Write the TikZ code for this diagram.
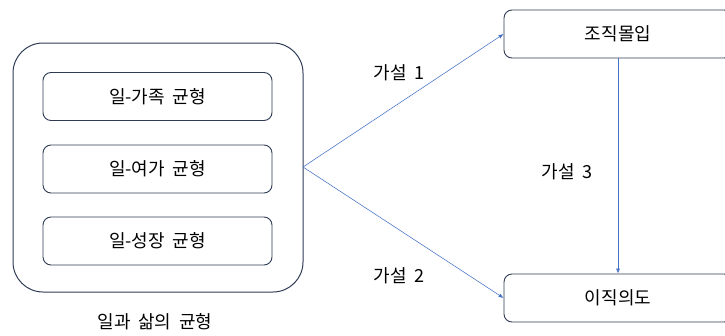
\documentclass[tikz,border=0pt]{standalone}
\usepackage{fontspec}
\setmainfont[WordSpace=1.9]{Noto Sans CJK KR}
\usetikzlibrary{arrows.meta}
\definecolor{boxline}{HTML}{2F3B55}
\definecolor{arrowblue}{HTML}{4472C4}
\tikzset{
  outerbox/.style={draw=boxline, line width=1pt, rounded corners=30pt},
  innerbox/.style={draw=boxline, line width=0.9pt, rounded corners=8pt, minimum width=229pt, minimum height=48pt, font=\fontsize{18}{21}\selectfont},
  rightbox/.style={draw=boxline, line width=0.9pt, rounded corners=8pt, minimum width=228pt, minimum height=48pt, font=\fontsize{18}{21}\selectfont},
  lbl/.style={font=\fontsize{18}{21}\selectfont},
  conn/.style={draw=arrowblue, line width=0.55pt, -{Latex[length=5pt,width=4pt]}}
}
\begin{document}
\begin{tikzpicture}[x=1pt,y=-1pt]
\useasboundingbox (0,0) rectangle (725,335);
\draw[outerbox] (13,43) rectangle (303,292);
\coordinate (src) at (303,167);
\node[innerbox] (a) at (157.5,96.5) {일-가족 균형};
\node[innerbox] (b) at (157.5,169) {일-여가 균형};
\node[innerbox] (c) at (157.5,241) {일-성장 균형};
\node[lbl] (cap) at (155,322) {일과 삶의 균형};
\node[rightbox] (d) at (618,34) {조직몰입};
\node[rightbox] (e) at (618,298) {이직의도};
\draw[conn] (src) -- (d.west);
\draw[conn] (src) -- (e.west);
\draw[conn] (d.south) -- (e.north);
\node[lbl] (h1) at (399,73) {가설 1};
\node[lbl] (h2) at (399,276) {가설 2};
\node[lbl] (h3) at (567,172) {가설 3};
\end{tikzpicture}
\end{document}
